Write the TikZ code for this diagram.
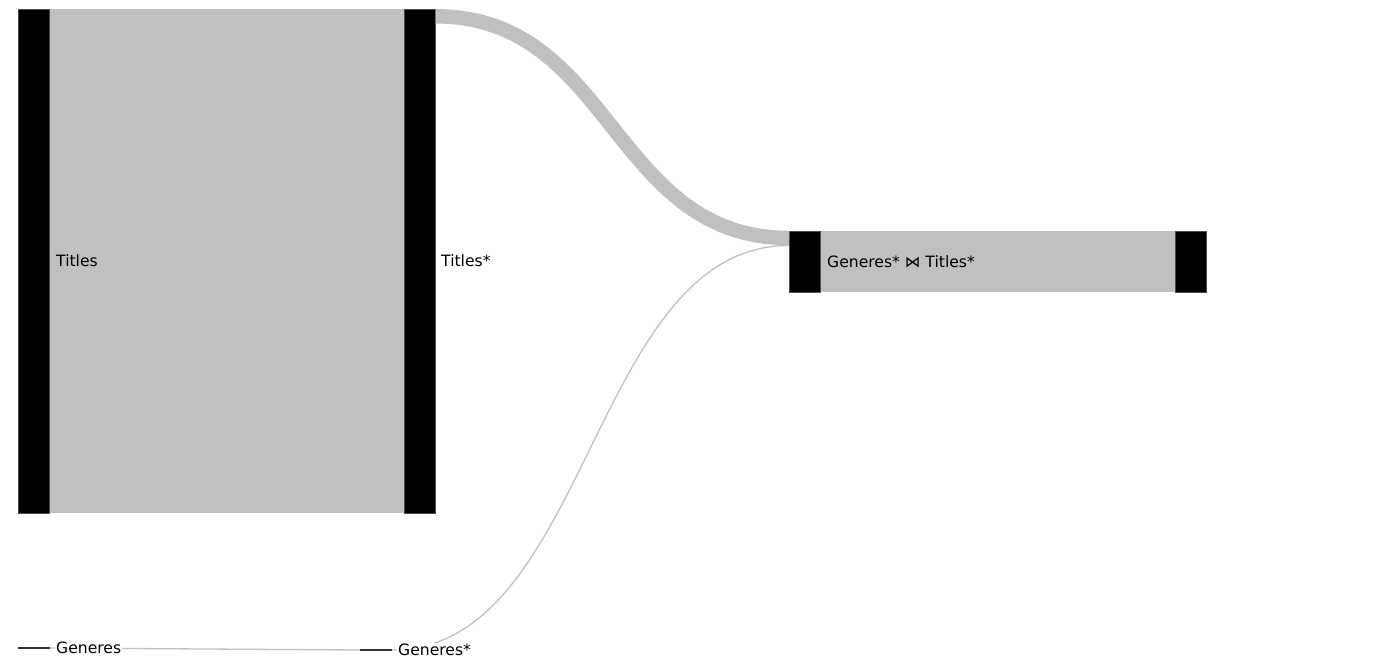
\documentclass[tikz,border=0pt]{standalone}
\usepackage{fontspec}
\setmainfont{DejaVu Sans}
\definecolor{band}{HTML}{C0C0C0}
\begin{document}
\begin{tikzpicture}[x=1pt,y=-1pt,
  bar/.style={fill=black,draw=black!70,line width=0.6pt,anchor=north west,inner sep=0pt,minimum width=31pt},
  fillbox/.style={fill=band,draw=none,anchor=north west,inner sep=0pt},
  lbl/.style={font=\fontsize{15.6}{17}\selectfont,anchor=west,inner sep=1pt,text=black},
  flow/.style={draw=band,line width=14.5pt},
  thin/.style={draw=band,line width=1.3pt},
  tick/.style={draw=black!80,line width=1.2pt}]
\useasboundingbox (0,0) rectangle (1381,669);
% Titles
\node[fillbox,minimum width=356pt,minimum height=504pt] (TB) at (49,9) {};
\node[bar,minimum height=504pt] (T1) at (18,9) {};
\node[bar,minimum height=504pt] (T2) at (404,9) {};
% Join
\node[fillbox,minimum width=356pt,minimum height=61pt] (JB) at (820,231) {};
\node[bar,minimum height=61pt] (J1) at (789,231) {};
\node[bar,minimum height=61pt] (J2) at (1175,231) {};
% Generes
\coordinate (G1a) at (18,648);
\coordinate (G1b) at (50,648);
\coordinate (G2a) at (360,650);
\coordinate (G2b) at (392,650);
% flows
\draw[flow] ([yshift=-7.3pt]T2.north east) .. controls +(177,0) and +(-177,0) .. ([yshift=-7pt]J1.north west);
\draw[thin] (G1b) -- (G2a);
\draw[thin] (G2b) .. controls +(198,0) and +(-198,0) .. ([yshift=-14.5pt]J1.north west);
\draw[tick] (G1a) -- (G1b);
\draw[tick] (G2a) -- (G2b);
% labels
\node[lbl] (LT1) at (55,261) {Titles};
\node[lbl] (LT2) at (440,261) {Titles*};
\node[lbl] (LJ) at (826,262) {Generes* ⋈ Titles*};
\node[lbl,fill=white] (LG1) at (55,648) {Generes};
\node[lbl,fill=white] (LG2) at (397,650) {Generes*};
\end{tikzpicture}
\end{document}
